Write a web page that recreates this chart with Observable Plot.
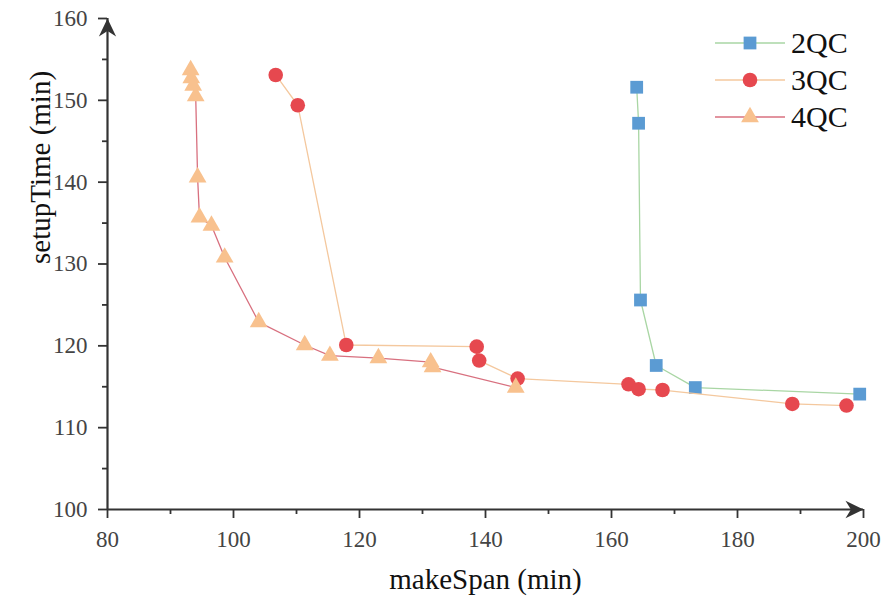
<!DOCTYPE html>
<html><head><meta charset="utf-8">
<script src="https://cdn.jsdelivr.net/npm/d3@7"></script>
<script src="https://cdn.jsdelivr.net/npm/@observablehq/plot@0.6"></script>
<style>
body{margin:0;background:#fff;}
#wrap{position:relative;width:886px;height:607px;}
#wrap svg text{font-family:"Liberation Serif",serif !important;}
#legend{position:absolute;left:713px;top:24px;font-family:"Liberation Serif",serif;font-size:30px;color:#111;}
.row{display:flex;align-items:center;height:37px;}
.row svg{margin-right:4px;}
</style></head><body><div id="wrap"><div id="legend"></div></div>
<script>
// ---- data ----
const series = ["2QC", "3QC", "4QC"];
const makeSpan2QC = [164.0, 164.3, 164.6, 167.1, 173.3, 199.4];
const setupTime2QC = [151.6, 147.2, 125.6, 117.6, 114.9, 114.1];
const makeSpan3QC = [106.7, 110.2, 117.9, 138.6, 139.0, 145.1, 162.7, 164.3, 168.1, 188.7, 197.3];
const setupTime3QC = [153.1, 149.4, 120.1, 119.9, 118.2, 116.0, 115.3, 114.7, 114.6, 112.9, 112.7];
const makeSpan4QC = [93.2, 93.3, 93.6, 94.0, 94.3, 94.6, 96.5, 98.6, 104.0, 111.3, 115.3, 123.0, 131.3, 131.6, 144.8];
const setupTime4QC = [153.7, 152.7, 151.8, 150.5, 140.6, 135.7, 134.7, 130.8, 122.9, 120.1, 118.8, 118.5, 118.0, 117.4, 114.9];
const xDomain = [80, 200];
const yDomain = [100, 160];
const xTicks = [80, 100, 120, 140, 160, 180, 200];
const xMinorTicks = [90, 110, 130, 150, 170, 190];
const yTicks = [100, 110, 120, 130, 140, 150, 160];
const yMinorTicks = [105, 115, 125, 135, 145, 155];
const xLabel = "makeSpan (min)";
const yLabel = "setupTime (min)";

// ---- styles ----
const font = "Liberation Serif, serif";
const styles = {
  "2QC": {line: "#a9d6a4", fill: "#5b9bd3", symbol: "square", r: 7.2},
  "3QC": {line: "#f4c89e", fill: "#e6484f", symbol: "circle", r: 7.3},
  "4QC": {line: "#d8707f", fill: "#f8c18e", symbol: "triangle", r: 6.6}
};
const cols = {"2QC": [makeSpan2QC, setupTime2QC], "3QC": [makeSpan3QC, setupTime3QC], "4QC": [makeSpan4QC, setupTime4QC]};
const rows = s => cols[s][0].map((x, i) => ({x, y: cols[s][1][i]}));

const arrowSym = {draw(ctx, size) {
  const r = Math.sqrt(size / Math.PI);
  ctx.moveTo(0, 0);
  ctx.lineTo(-0.48 * r, r);
  ctx.lineTo(0, 0.7 * r);
  ctx.lineTo(0.48 * r, r);
  ctx.closePath();
}};

const axisColor = "#333";
const seriesMarks = series.flatMap(s => [
  Plot.line(rows(s), {x: "x", y: "y", stroke: styles[s].line, strokeWidth: 1.3}),
  Plot.dot(rows(s), {x: "x", y: "y", symbol: styles[s].symbol, r: styles[s].r, fill: styles[s].fill, stroke: "none"})
]);

const chart = Plot.plot({
  width: 886, height: 607,
  marginLeft: 107, marginRight: 23, marginTop: 18, marginBottom: 98,
  style: {fontFamily: font, background: "#fff", overflow: "visible"},
  x: {domain: xDomain, axis: null},
  y: {domain: yDomain, axis: null},
  marks: [
    ...seriesMarks,
    Plot.axisX(xTicks, {anchor: "bottom", tickSize: 9, tickPadding: 12, fontSize: 23, fontFamily: font, stroke: axisColor, fill: "#444", strokeWidth: 1.8, label: null}),
    Plot.axisX(xMinorTicks, {anchor: "bottom", tickSize: 5, stroke: axisColor, strokeWidth: 1.8, text: null, label: null}),
    Plot.axisY(yTicks, {anchor: "left", tickSize: 9, tickPadding: 11, fontSize: 23, fontFamily: font, stroke: axisColor, fill: "#444", strokeWidth: 1.8, label: null}),
    Plot.axisY(yMinorTicks, {anchor: "left", tickSize: 5, stroke: axisColor, strokeWidth: 1.8, text: null, label: null}),
    Plot.ruleY([yDomain[0]], {x1: xDomain[0], x2: xDomain[1], stroke: axisColor, strokeWidth: 2.2}),
    Plot.ruleX([xDomain[0]], {y1: yDomain[0], y2: yDomain[1], stroke: axisColor, strokeWidth: 2.2}),
    Plot.dot([{x: xDomain[0], y: yDomain[1]}], {x: "x", y: "y", symbol: arrowSym, r: 18, fill: axisColor, stroke: "none"}),
    Plot.dot([{x: xDomain[1], y: yDomain[0]}], {x: "x", y: "y", symbol: arrowSym, r: 18, rotate: 90, fill: axisColor, stroke: "none"}),
    Plot.text([xLabel], {frameAnchor: "bottom", dy: 79, fontSize: 29, fontFamily: font, fill: "#111"}),
    Plot.text([yLabel], {frameAnchor: "left", dx: -67, rotate: -90, fontSize: 29, fontFamily: font, fill: "#111"})
  ]
});
document.getElementById("wrap").prepend(chart);

// ---- legend ----
const legend = document.getElementById("legend");
const symPath = {square: d3.symbolSquare, circle: d3.symbolCircle, triangle: d3.symbolTriangle};
for (const s of series) {
  const st = styles[s];
  const row = document.createElement("div");
  row.className = "row";
  const size = Math.PI * st.r * st.r;
  row.innerHTML = `<svg width="74" height="30"><line x1="2" x2="72" y1="15" y2="15" stroke="${st.line}" stroke-width="1.3"/>` +
    `<path transform="translate(37,15)" d="${d3.symbol(symPath[st.symbol], size)()}" fill="${st.fill}"/></svg><span>${s}</span>`;
  legend.appendChild(row);
}
</script>
</body></html>
